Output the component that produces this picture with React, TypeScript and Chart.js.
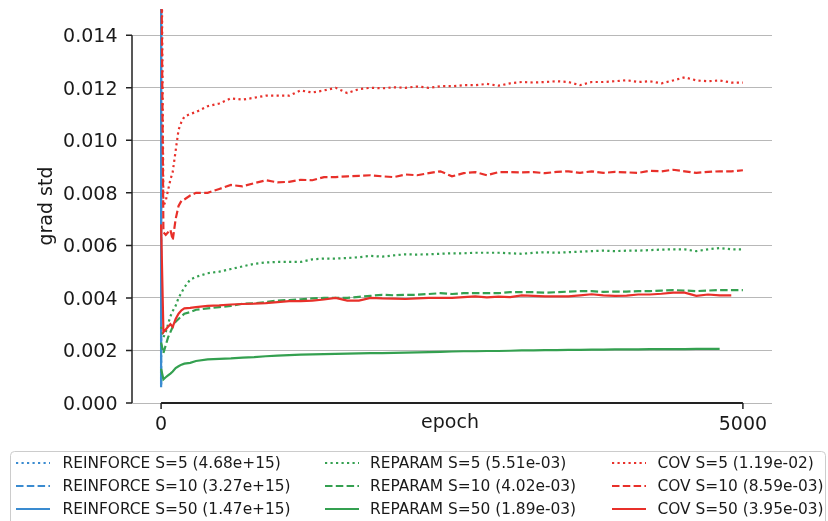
import React, { useEffect, useRef } from "react";
import { Chart, registerables } from "chart.js";

Chart.register(...registerables);

// ---------------- data ----------------
const epochs = [
  0, 20, 40, 60, 80, 100, 125, 150, 175, 200, 250, 300,
  400, 500, 600, 700, 800, 900, 1000,
  1100, 1200, 1300, 1400, 1500, 1600, 1700, 1800, 1900, 2000,
  2100, 2200, 2300, 2400, 2500, 2600, 2700, 2800, 2900, 3000,
  3100, 3200, 3300, 3400, 3500, 3600, 3700, 3800, 3900, 4000,
  4100, 4200, 4300, 4400, 4500, 4600, 4700, 4800, 4900, 5000,
];

const reinforceEpochs = [0, 20, 1000, 2000, 3000, 4000, 5000];
const reinforceS5 = [0.0007, 5.1e15, 4.9e15, 4.6e15, 4.7e15, 4.5e15, 4.6e15];
const reinforceS10 = [0.0007, 3.5e15, 3.3e15, 3.2e15, 3.3e15, 3.2e15, 3.2e15];
const reinforceS50 = [0.0006, 1.6e15, 1.5e15, 1.4e15, 1.5e15, 1.4e15, 1.5e15];

const reparamS5 = [
  0.0029, 0.0025, 0.0027, 0.0030, 0.0033, 0.0035, 0.0037, 0.0040, 0.0042, 0.0044, 0.0047, 0.0048,
  0.00494, 0.0050, 0.0051, 0.0052, 0.0053, 0.00535, 0.00537,
  0.00537, 0.00537, 0.00547, 0.0055, 0.0055, 0.00552, 0.00555, 0.0056, 0.00557, 0.00562,
  0.00566, 0.00565, 0.00566, 0.00568, 0.0057, 0.0057, 0.00572, 0.00572, 0.00572, 0.0057,
  0.00568, 0.00572, 0.00574, 0.00572, 0.00574, 0.00576, 0.00578, 0.0058, 0.00578, 0.0058,
  0.0058, 0.00582, 0.00584, 0.00585, 0.00585, 0.00578, 0.00585, 0.0059, 0.00585, 0.00585,
];
const reparamS10 = [
  0.0023, 0.0019, 0.0022, 0.0025, 0.0027, 0.0029, 0.0031, 0.0032, 0.0033, 0.0034, 0.00346, 0.00355,
  0.0036, 0.00365, 0.0037, 0.00378, 0.0038, 0.00384, 0.0039,
  0.00392, 0.00395, 0.00398, 0.004, 0.004, 0.004, 0.00404, 0.00408, 0.00412, 0.0041,
  0.00412, 0.00412, 0.00415, 0.00418, 0.00415, 0.00418, 0.00418, 0.00418, 0.00418, 0.00422,
  0.00422, 0.00422, 0.0042, 0.00422, 0.00424, 0.00426, 0.00426, 0.00423, 0.00424, 0.00424,
  0.00426, 0.00426, 0.00428, 0.0043, 0.00428, 0.00426, 0.00428, 0.0043, 0.0043, 0.0043,
];
const reparamS50 = [
  0.0013, 0.0009, 0.00098, 0.00105, 0.00112, 0.0012, 0.00133, 0.0014, 0.00146, 0.0015, 0.00153, 0.0016,
  0.00166, 0.00168, 0.0017, 0.00173, 0.00175, 0.00178, 0.0018,
  0.00182, 0.00184, 0.00185, 0.00186, 0.00187, 0.00188, 0.00189, 0.0019, 0.0019, 0.00191,
  0.00192, 0.00193, 0.00194, 0.00195, 0.00196, 0.00197, 0.00197, 0.00198, 0.00198, 0.00199,
  0.002, 0.002, 0.00201, 0.00201, 0.00202, 0.00202, 0.00203, 0.00203, 0.00204, 0.00204,
  0.00204, 0.00205, 0.00205, 0.00205, 0.00205, 0.00206, 0.00206, 0.00206, null, null,
];
const covS5 = [
  0.0200, 0.0075, 0.0077, 0.0081, 0.0085, 0.0088, 0.0096, 0.0104, 0.0107, 0.0109, 0.0110, 0.01108,
  0.0113, 0.0114, 0.0116, 0.01155, 0.01162, 0.0117, 0.0117,
  0.0117, 0.0119, 0.01182, 0.0119, 0.0120, 0.0118, 0.01195, 0.0120, 0.01198, 0.01202,
  0.0120, 0.01205, 0.0120, 0.01206, 0.01206, 0.0121, 0.0121, 0.01215, 0.01208, 0.01217,
  0.01222, 0.0122, 0.01222, 0.01225, 0.01222, 0.0121, 0.01222, 0.01222, 0.01225, 0.01229,
  0.01222, 0.01225, 0.01217, 0.01228, 0.0124, 0.01228, 0.01225, 0.01228, 0.0122, 0.0122,
];
const covS10 = [
  0.0180, 0.0065, 0.0064, 0.0065, 0.0066, 0.0062, 0.0070, 0.0075, 0.0077, 0.00775, 0.0079, 0.0080,
  0.0080, 0.00815, 0.0083, 0.00825, 0.00837, 0.00848, 0.0084,
  0.00842, 0.0085, 0.00848, 0.0086, 0.0086, 0.00863, 0.00865, 0.00867, 0.00863, 0.0086,
  0.0087, 0.00867, 0.00875, 0.00882, 0.00863, 0.00875, 0.00879, 0.00867, 0.00879, 0.00879,
  0.00878, 0.00879, 0.00875, 0.0088, 0.00882, 0.00876, 0.00882, 0.00876, 0.0088, 0.00878,
  0.00876, 0.00884, 0.00882, 0.00888, 0.00882, 0.00876, 0.0088, 0.00882, 0.00882, 0.00886,
];
const covS50 = [
  0.0068, 0.0027, 0.0028, 0.0029, 0.0030, 0.0029, 0.0032, 0.0034, 0.00353, 0.0036, 0.00362, 0.00365,
  0.0037, 0.00372, 0.00375, 0.00377, 0.00378, 0.0038, 0.00384,
  0.00388, 0.00388, 0.0039, 0.00394, 0.0040, 0.0039, 0.0039, 0.0040, 0.00398, 0.00397,
  0.00396, 0.00398, 0.0040, 0.0040, 0.0040, 0.00403, 0.00406, 0.00402, 0.00405, 0.00403,
  0.0041, 0.00408, 0.00406, 0.00406, 0.00406, 0.0041, 0.00414, 0.0041, 0.00408, 0.00409,
  0.00413, 0.00413, 0.00416, 0.0042, 0.0042, 0.00408, 0.00413, 0.0041, 0.0041, null,
];

const seriesLabels = [
  "REINFORCE S=5 (4.68e+15)",
  "REINFORCE S=10 (3.27e+15)",
  "REINFORCE S=50 (1.47e+15)",
  "REPARAM S=5 (5.51e-03)",
  "REPARAM S=10 (4.02e-03)",
  "REPARAM S=50 (1.89e-03)",
  "COV S=5 (1.19e-02)",
  "COV S=10 (8.59e-03)",
  "COV S=50 (3.95e-03)",
];

const yTicks = [0, 0.002, 0.004, 0.006, 0.008, 0.01, 0.012, 0.014];
const yTickLabels = ["0.000", "0.002", "0.004", "0.006", "0.008", "0.010", "0.012", "0.014"];
const xTicks = [0, 5000];
const xTickLabels = ["0", "5000"];
const xTitle = "epoch";
const yTitle = "grad std";

// ---------------- styles ----------------
const BLUE = "#3a8bd0";
const GREEN = "#34a050";
const RED = "#e8302a";
const DOTTED = [2.2, 3.3];
const DASHED = [7.5, 3.3];
const SOLID: number[] = [];
const FONT = "DejaVu Sans";
const TEXT = "#1a1a1a";

const pts = (xs: number[], ys: (number | null)[]) =>
  xs.map((x, i) => ({ x, y: ys[i] }));

const overlayPlugin = {
  id: "overlay",
  afterDraw(chart: any) {
    const ctx = chart.ctx as CanvasRenderingContext2D;
    const xs = chart.scales.x;
    const ys = chart.scales.y;
    const area = chart.chartArea;
    ctx.save();

    // left spine + ticks
    ctx.strokeStyle = "#222";
    ctx.lineWidth = 1.5;
    const xl = area.left;
    const yTop = ys.getPixelForValue(yTicks[yTicks.length - 1]);
    const yBot = ys.getPixelForValue(yTicks[0]);
    ctx.beginPath();
    ctx.moveTo(xl, yTop);
    ctx.lineTo(xl, yBot);
    yTicks.forEach((v) => {
      const y = ys.getPixelForValue(v);
      ctx.moveTo(xl - 6, y);
      ctx.lineTo(xl, y);
    });
    ctx.stroke();

    // bottom spine + ticks
    const xa = xs.getPixelForValue(xTicks[0]);
    const xb = xs.getPixelForValue(xTicks[xTicks.length - 1]);
    ctx.lineWidth = 2;
    ctx.beginPath();
    ctx.moveTo(xa, yBot);
    ctx.lineTo(xb, yBot);
    ctx.stroke();
    ctx.lineWidth = 1.5;
    ctx.beginPath();
    xTicks.forEach((v) => {
      const x = xs.getPixelForValue(v);
      ctx.moveTo(x, yBot);
      ctx.lineTo(x, yBot + 6);
    });
    ctx.stroke();

    // tick labels
    ctx.fillStyle = TEXT;
    ctx.font = `19px "${FONT}"`;
    ctx.textAlign = "right";
    ctx.textBaseline = "alphabetic";
    yTicks.forEach((v, i) => {
      const y = ys.getPixelForValue(v);
      ctx.fillText(yTickLabels[i], xl - 14.5, y + 7);
    });
    ctx.textAlign = "center";
    xTicks.forEach((v, i) => {
      const x = xs.getPixelForValue(v);
      ctx.fillText(xTickLabels[i], x, yBot + 27);
    });

    // axis titles
    ctx.fillText(xTitle, (area.left + area.right) / 2 - 2, yBot + 25);
    ctx.save();
    ctx.translate(51.5, 206);
    ctx.rotate(-Math.PI / 2);
    ctx.textAlign = "center";
    ctx.fillText(yTitle, 0, 0);
    ctx.restore();

    // legend box
    ctx.beginPath();
    (ctx as any).roundRect(10.5, 451.5, 815, 80, 4);
    ctx.fillStyle = "rgba(255,255,255,0.85)";
    ctx.fill();
    ctx.strokeStyle = "#cccccc";
    ctx.lineWidth = 1;
    ctx.stroke();

    const colLine = [16, 325, 612];
    const colText = [62.5, 370, 657.5];
    const rowY = [463, 486, 509];
    ctx.font = `15.4px "${FONT}"`;
    ctx.textAlign = "left";
    ctx.textBaseline = "middle";
    chart.data.datasets.forEach((ds: any, i: number) => {
      const c = Math.floor(i / 3);
      const r = i % 3;
      const y = rowY[r];
      ctx.strokeStyle = ds.borderColor;
      ctx.lineWidth = 2.2;
      ctx.setLineDash(ds.borderDash || []);
      ctx.beginPath();
      ctx.moveTo(colLine[c], y);
      ctx.lineTo(colLine[c] + 34, y);
      ctx.stroke();
      ctx.setLineDash([]);
      ctx.fillStyle = TEXT;
      ctx.fillText(ds.label, colText[c], y + 1);
    });

    ctx.restore();
  },
};

export default function App() {
  const ref = useRef<HTMLCanvasElement | null>(null);

  useEffect(() => {
    if (!ref.current) return;
    const mk = (i: number, xs: number[], ys: (number | null)[], color: string, dash: number[]) => ({
      label: seriesLabels[i],
      data: pts(xs, ys),
      borderColor: color,
      backgroundColor: color,
      borderDash: dash,
      borderWidth: 2.2,
      pointRadius: 0,
      tension: 0,
      fill: false,
      spanGaps: false,
      order: 9 - i,
    });
    const chart = new Chart(ref.current, {
      type: "line",
      data: {
        datasets: [
          mk(0, reinforceEpochs, reinforceS5, BLUE, DOTTED),
          mk(1, reinforceEpochs, reinforceS10, BLUE, DASHED),
          mk(2, reinforceEpochs, reinforceS50, BLUE, SOLID),
          mk(3, epochs, reparamS5, GREEN, DOTTED),
          mk(4, epochs, reparamS10, GREEN, DASHED),
          mk(5, epochs, reparamS50, GREEN, SOLID),
          mk(6, epochs, covS5, RED, DOTTED),
          mk(7, epochs, covS10, RED, DASHED),
          mk(8, epochs, covS50, RED, SOLID),
        ] as any,
      },
      options: {
        animation: false,
        responsive: false,
        maintainAspectRatio: false,
        layout: { padding: { left: 132, right: 56, top: 9, bottom: 118 } },
        plugins: { legend: { display: false }, tooltip: { enabled: false } },
        scales: {
          x: {
            type: "linear",
            min: -250,
            max: 5250,
            display: false,
          },
          y: {
            type: "linear",
            min: 0,
            max: 0.015,
            display: true,
            border: { display: false },
            ticks: { display: false },
            grid: { color: "#b8b8b8", lineWidth: 1, drawTicks: false },
            afterBuildTicks: (scale: any) => {
              scale.ticks = yTicks.map((v) => ({ value: v }));
            },
            afterFit: (scale: any) => {
              scale.width = 0;
            },
          },
        },
      } as any,
      plugins: [overlayPlugin],
    });
    return () => chart.destroy();
  }, []);

  return (
    <div style={{ position: "absolute", left: 0, top: 0, width: 828, height: 521, background: "#fff" }}>
      <canvas ref={ref} width={828} height={521} style={{ width: 828, height: 521, display: "block" }} />
    </div>
  );
}
